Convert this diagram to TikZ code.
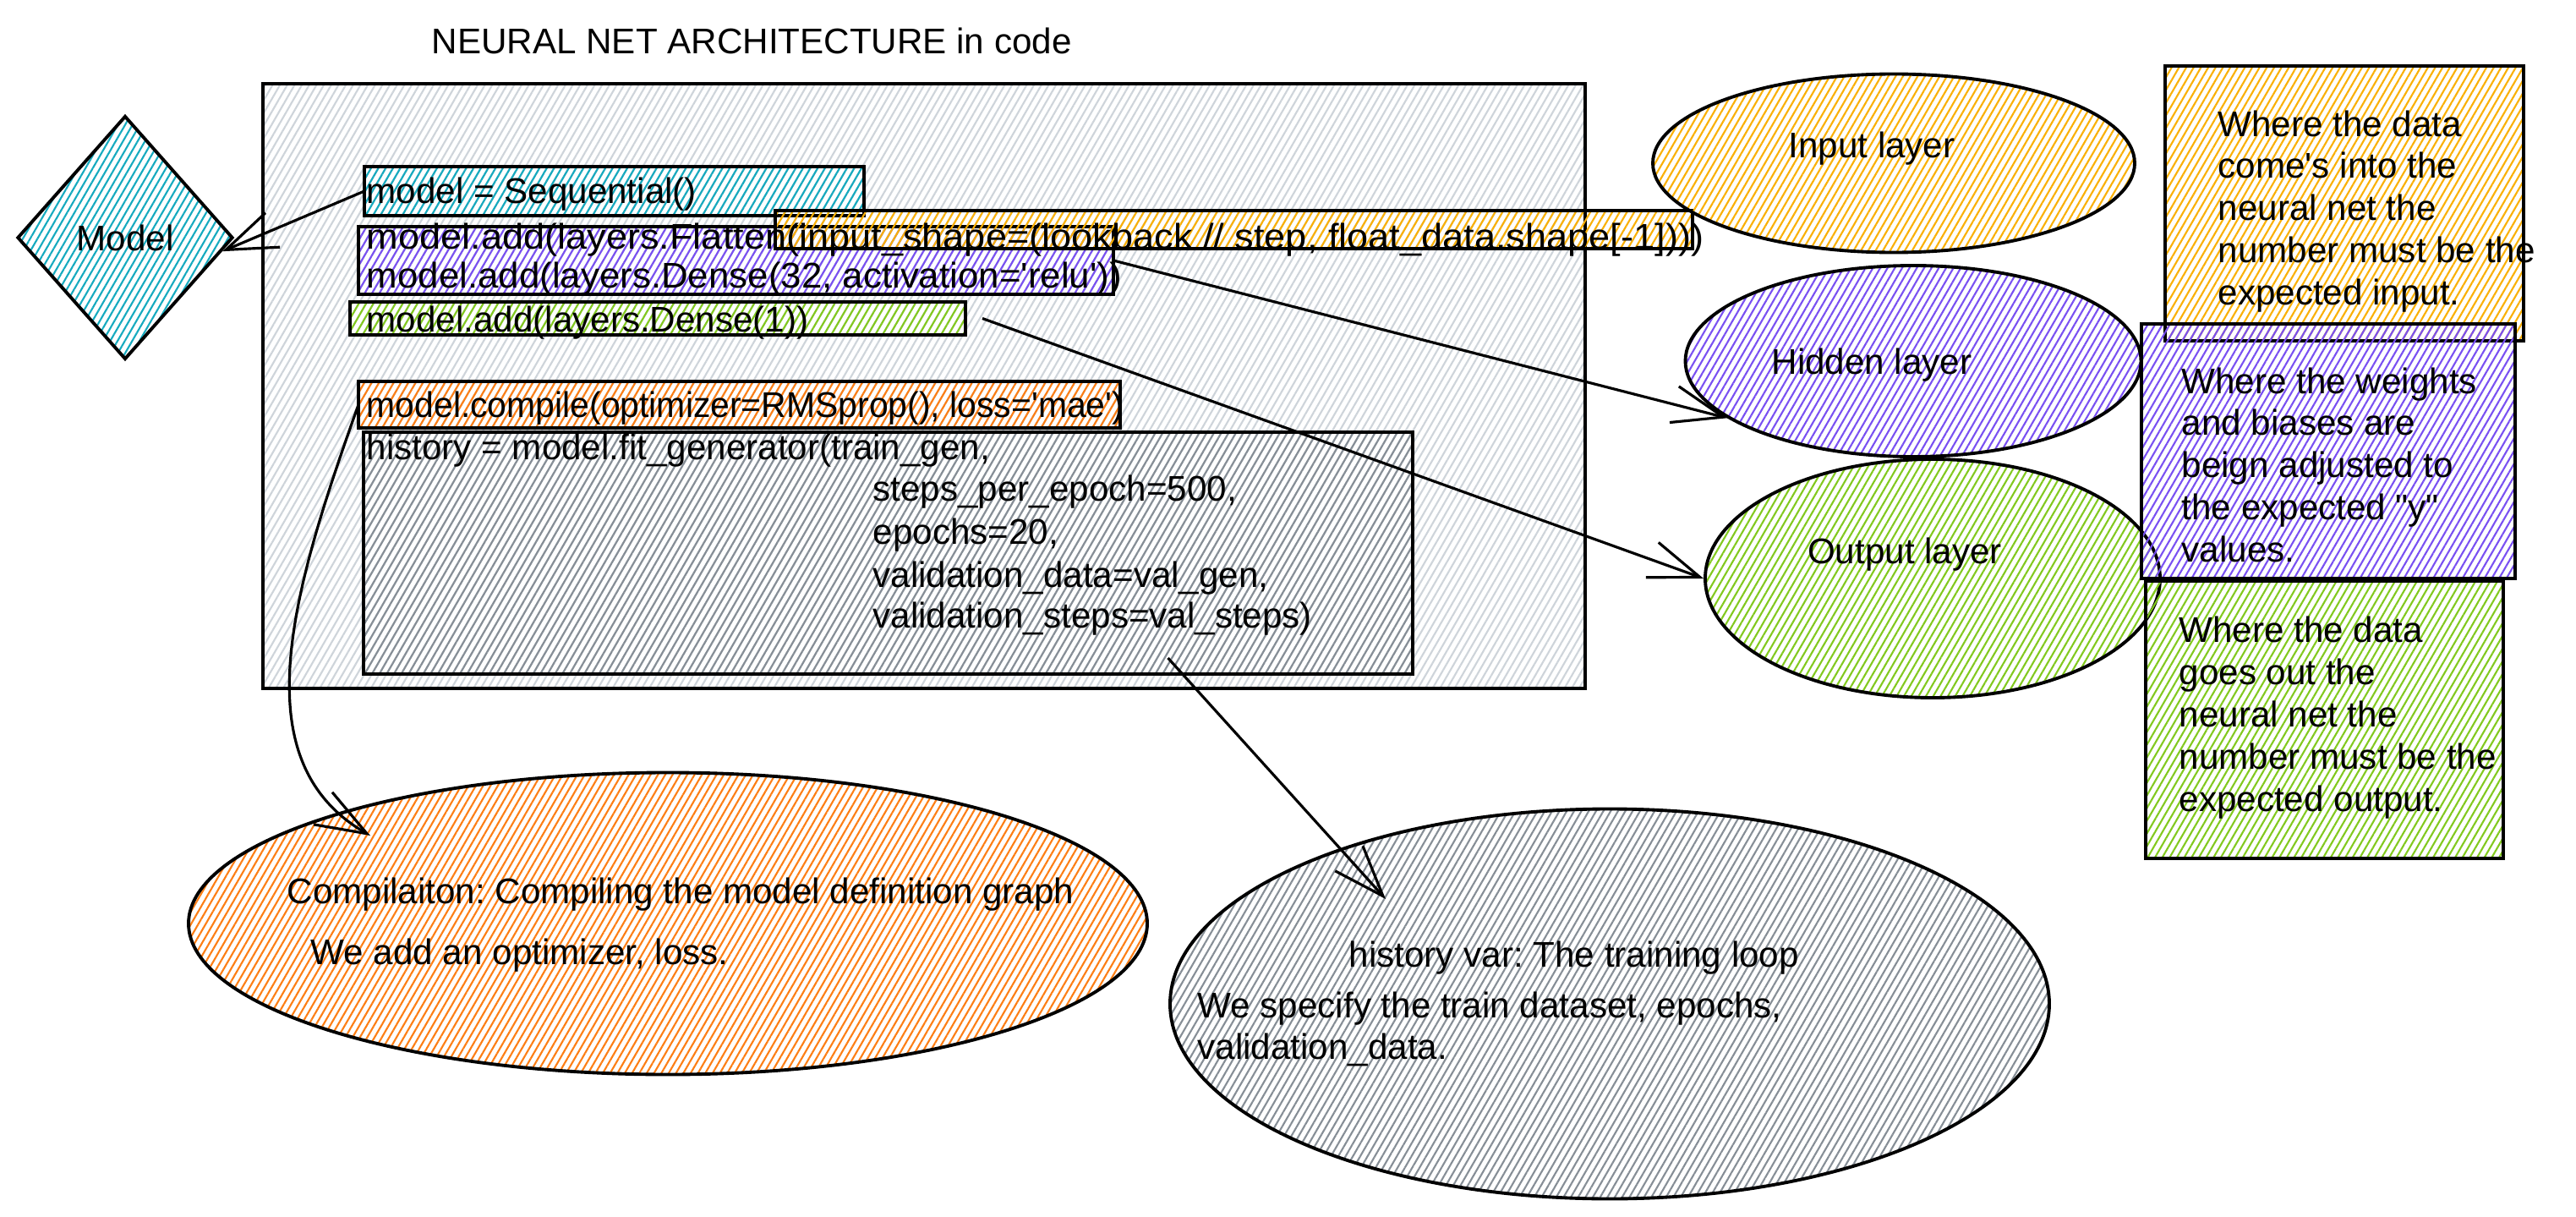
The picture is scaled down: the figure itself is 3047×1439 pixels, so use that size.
\documentclass[tikz,border=0pt]{standalone}
\usepackage{fontspec}
\setmainfont{Liberation Sans}[Ligatures=TeXOff]
\usetikzlibrary{shapes.geometric,arrows.meta,patterns.meta,calc,fit}

\definecolor{cgrayL}{HTML}{CED4DA}
\definecolor{cgrayD}{HTML}{868E96}
\definecolor{ccyan}{HTML}{15AABF}
\definecolor{cviolet}{HTML}{7950F2}
\definecolor{clime}{HTML}{82C91E}
\definecolor{camber}{HTML}{FAB005}
\definecolor{corange}{HTML}{FD7E14}

\begin{document}
\frenchspacing
\begin{tikzpicture}[x=0.1mm,y=-0.1mm,
  hatch/.style={pattern={Lines[angle=60,distance=0.75mm,line width=0.6pt]},pattern color=#1},
  shp/.style={draw=black,line width=1.1pt},
  boxfit/.style={shp,rectangle,inner sep=0pt,outer sep=0pt},
  ell/.style={shp,ellipse,inner sep=0pt},
  txt/.style={font=\fontsize{12}{14.2}\selectfont,inner sep=0pt,text height=9pt,text depth=0.4pt,anchor=west},
  ctxt/.style={txt,anchor=center},
  arr/.style={draw=black,line width=0.9pt,-{Straight Barb[length=6mm,width=4.4mm]}},
]
\fill[white] (0,0) rectangle (3047,1439);
\useasboundingbox (0,0) rectangle (3047,1439);

% title
\node[txt] (title) at (510,48) {NEURAL NET ARCHITECTURE in code};

% main code panel
\node[boxfit,hatch=cgrayL,fit={(311,99)(1875,814)}] (main) {};

% model diamond
\node[shp,diamond,hatch=ccyan,minimum width=25.5mm,minimum height=28.8mm,inner sep=0pt,
      font=\fontsize{12}{14.2}\selectfont] (model) at (148,281) {Model};

% code boxes
\node[boxfit,hatch=ccyan,fit={(431,197)(1022,255)}] (seqbox) {};
\node[boxfit,hatch=cviolet,fit={(424,268)(1317,348)}] (hidbox) {};
\node[boxfit,hatch=camber,fit={(917,249)(2002,294)}] (inbox) {};
\node[boxfit,hatch=clime,fit={(414,357)(1142,396)}] (outbox) {};
\node[boxfit,hatch=corange,fit={(424,451)(1325,506)}] (compbox) {};
\node[boxfit,hatch=cgrayD,fit={(430,511)(1671,797)}] (histbox) {};

% code text
\node[txt] (c1) at (433,225) {model = Sequential()};
\node[txt] (c2) at (433,279) {\scalebox{1.07}[1]{model.add(layers.Flatten(input\_shape=(lookback // step, float\_data.shape[-1])))}};
\node[txt] (c3) at (433,325) {\scalebox{1.04}[1]{model.add(layers.Dense(32, activation='relu'))}};
\node[txt] (c4) at (433,377) {model.add(layers.Dense(1))};
\node[txt] (c5) at (433,478) {\scalebox{0.97}[1]{model.compile(optimizer=RMSprop(), loss='mae')}};
\node[txt] (c6) at (433,528) {history = model.fit\_generator(train\_gen,};
\node[txt] (c7) at (1032,577) {steps\_per\_epoch=500,};
\node[txt] (c8) at (1032,628) {epochs=20,};
\node[txt] (c9) at (1032,679) {validation\_data=val\_gen,};
\node[txt] (c10) at (1032,727) {validation\_steps=val\_steps)};

% layer ellipses
\node[ell,hatch=camber,minimum width=57mm,minimum height=21.1mm] (inell) at (2240,193) {};
\node[ell,hatch=cviolet,minimum width=53.9mm,minimum height=22.6mm] (hidell) at (2263,427) {};
\node[ell,hatch=clime,minimum width=53.8mm,minimum height=28.2mm] (outell) at (2286,684) {};
\node[ctxt] (inlbl) at (2214,171) {Input layer};
\node[ctxt] (hidlbl) at (2214,427) {Hidden layer};
\node[ctxt] (outlbl) at (2253,651) {Output layer};

% notes
\node[boxfit,hatch=camber,fit={(2561,78)(2985,403)}] (note1) {};
\node[boxfit,hatch=cviolet,fit={(2533,383)(2975,684)}] (note2) {};
\node[boxfit,hatch=clime,fit={(2538,687)(2961,1015)}] (note3) {};
\foreach \t [count=\i] in {{Where the data},{come's into the},{neural net the},{number must be the},{expected input.}}
  \node[txt] (na\i) at (2623,{146+49.8*(\i-1)}) {\t};
\foreach \t [count=\i] in {{Where the weights},{and biases are},{beign adjusted to},{the expected "y"},{values.}}
  \node[txt] (nb\i) at (2580,{450+49.8*(\i-1)}) {\t};
\foreach \t [count=\i] in {{Where the data},{goes out the},{neural net the},{number must be the},{expected output.}}
  \node[txt] (nc\i) at (2577,{744+50*(\i-1)}) {\t};

% bottom ellipses
\node[ell,hatch=corange,minimum width=113.4mm,minimum height=35.7mm] (compell) at (790,1092) {};
\node[ell,hatch=cgrayD,minimum width=104mm,minimum height=46.1mm] (histell) at (1904,1187) {};
\node[txt] (cl1) at (339,1053) {Compilaiton: Compiling the model definition graph};
\node[txt] (cl2) at (367,1125) {We add an optimizer, loss.};
\node[txt] (hl1) at (1595,1128) {history var: The training loop};
\node[txt] (hl2) at (1416,1188) {We specify the train dataset, epochs,};
\node[txt] (hl3) at (1416,1237) {validation\_data.};

% connectors
\draw[arr] (seqbox.west) -- (model.-8);
\draw[arr] (hidbox.east) -- (hidell.197);
\draw[arr] ([xshift=2mm]outbox.east) -- (outell.west);
\draw[arr] (compbox.west) .. controls (345,700) and (285,900) .. ($(compell.center)+(-352,-104)$);
\draw[arr] ($(histbox.south)+(331,-19)$) -- ($(histell.center)+(-265,-124)$);
\end{tikzpicture}
\end{document}
